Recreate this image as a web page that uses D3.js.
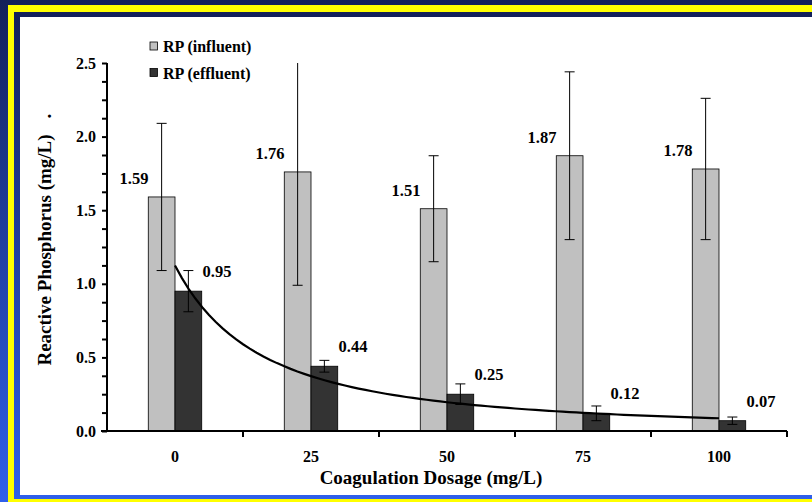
<!DOCTYPE html>
<html>
<head>
<meta charset="utf-8">
<script src="https://cdn.jsdelivr.net/npm/d3@7"></script>
<style>
  body { margin: 0; }
  svg { display: block; }
  text { font-family: "Liberation Serif", "Times New Roman", "DejaVu Serif", serif; font-weight: bold; fill: #000; }
</style>
</head>
<body>
<div id="chart"></div>
<script>
// Data
const dosages = ["0", "25", "50", "75", "100"];
const influent = [1.59, 1.76, 1.51, 1.87, 1.78];
const effluent = [0.95, 0.44, 0.25, 0.12, 0.07];
const influentErr = [0.50, 0.77, 0.36, 0.57, 0.48];
const effluentErr = [0.14, 0.04, 0.07, 0.05, 0.025];
const yTicks = [0, 0.5, 1.0, 1.5, 2.0, 2.5];
const seriesNames = ["RP (influent)", "RP (effluent)"];
const seriesColors = ["#c0c0c0", "#333333"];

const W = 812, H = 502;
const plot = { left: 107, right: 787, top: 63, bottom: 431 };

const svg = d3.select("#chart")
  .append("svg")
  .attr("width", W)
  .attr("height", H);

// Background frame: blue gradient, yellow rule, white panel
const grad = svg.append("defs").append("linearGradient")
  .attr("id", "bg").attr("x1", 0).attr("y1", 0).attr("x2", 0).attr("y2", 1);
grad.append("stop").attr("offset", "0%").attr("stop-color", "#13205a");
grad.append("stop").attr("offset", "100%").attr("stop-color", "#3060ea");

svg.append("rect").attr("width", W).attr("height", H).attr("fill", "url(#bg)");
svg.append("rect").attr("x", 8).attr("y", 5).attr("width", W).attr("height", H + 10).attr("fill", "#ffff00");
svg.append("rect").attr("x", 14).attr("y", 12).attr("width", W).attr("height", 487).attr("fill", "url(#bg)");
svg.append("rect").attr("x", 20).attr("y", 17).attr("width", W).attr("height", 478).attr("fill", "#fff");

// Scales
const x = d3.scaleBand().domain(dosages).range([plot.left, plot.right]);
const y = d3.scaleLinear().domain([0, 2.5]).range([plot.bottom, plot.top]);
const groupW = x.bandwidth() * 0.393;
const xSub = d3.scaleBand().domain([0, 1])
  .range([(x.bandwidth() - groupW) / 2, (x.bandwidth() + groupW) / 2]);

const rows = dosages.map((d, i) => ({
  dose: d,
  vals: [influent[i], effluent[i]],
  errs: [influentErr[i], effluentErr[i]]
}));

// Bars
const groups = svg.selectAll(".grp")
  .data(rows)
  .enter()
  .append("g")
  .attr("class", "grp")
  .attr("transform", d => `translate(${x(d.dose)},0)`);

groups.selectAll("rect")
  .data(d => d.vals.map((v, k) => ({ v, k, e: d.errs[k] })))
  .enter()
  .append("rect")
  .attr("x", d => xSub(d.k))
  .attr("y", d => y(d.v))
  .attr("width", xSub.bandwidth())
  .attr("height", d => y(0) - y(d.v))
  .attr("fill", d => seriesColors[d.k])
  .attr("stroke", "#000")
  .attr("stroke-width", 0.8);

// Trendline: power fit of effluent values against category index 1..5
const lx = effluent.map((v, i) => Math.log(i + 1));
const ly = effluent.map(v => Math.log(v));
const mx = d3.mean(lx), my = d3.mean(ly);
const b = d3.sum(lx, (v, i) => (v - mx) * (ly[i] - my)) / d3.sum(lx, v => (v - mx) * (v - mx));
const a = Math.exp(my - b * mx);
const xIdx = d3.scaleLinear()
  .domain([1, dosages.length])
  .range([x(dosages[0]) + x.bandwidth() / 2, x(dosages[dosages.length - 1]) + x.bandwidth() / 2]);
const trend = d3.range(1, dosages.length + 0.001, 0.05).map(t => [t, a * Math.pow(t, b)]);
svg.append("path")
  .datum(trend)
  .attr("fill", "none")
  .attr("stroke", "#000")
  .attr("stroke-width", 2.2)
  .attr("d", d3.line().x(d => xIdx(d[0])).y(d => y(d[1])));

// Error bars
groups.each(function(d) {
  const g = d3.select(this);
  d.vals.forEach((v, k) => {
    const cx = xSub(k) + xSub.bandwidth() / 2;
    const hiV = v + d.errs[k], loV = v - d.errs[k];
    const hi = y(Math.min(hiV, 2.5)), lo = y(loV);
    g.append("line").attr("x1", cx).attr("x2", cx).attr("y1", hi).attr("y2", lo)
      .attr("stroke", "#000").attr("stroke-width", 1);
    g.append("line").attr("x1", cx - 5).attr("x2", cx + 5).attr("y1", lo).attr("y2", lo)
      .attr("stroke", "#000").attr("stroke-width", 1);
    if (hiV <= 2.5) {
      g.append("line").attr("x1", cx - 5).attr("x2", cx + 5).attr("y1", hi).attr("y2", hi)
        .attr("stroke", "#000").attr("stroke-width", 1);
    }
  });
});

// Value labels
groups.selectAll(".lbl")
  .data(d => d.vals.map((v, k) => ({ v, k })))
  .enter()
  .append("text")
  .attr("class", "lbl")
  .attr("x", d => x.bandwidth() / 2 + (d.k === 0 ? -41 : 42))
  .attr("y", d => y(d.v) - (d.k === 0 ? 13 : 14))
  .attr("text-anchor", "middle")
  .style("font-size", "16.5px")
  .text(d => d.v.toFixed(2));

// Y axis
const yAxis = d3.axisLeft(y)
  .tickValues(d3.range(0, 2.5001, 0.125))
  .tickSize(5)
  .tickFormat(d => yTicks.some(t => Math.abs(t - d) < 1e-6) ? d.toFixed(1) : "");
const gy = svg.append("g")
  .attr("transform", `translate(${plot.left},0)`)
  .call(yAxis);
gy.attr("font-family", null);
gy.select(".domain").attr("d", `M0,${plot.top}V${plot.bottom + 1}`).attr("stroke-width", 2);
gy.selectAll(".tick line").attr("stroke-width", 2);
gy.selectAll(".tick text").attr("x", -11).style("font-size", "16px");

// X axis
const xAxis = d3.axisBottom(x).tickSize(0).tickFormat("");
const gx = svg.append("g")
  .attr("transform", `translate(0,${plot.bottom})`)
  .call(xAxis);
gx.attr("font-family", null);
gx.select(".domain").attr("d", `M${plot.left - 6},0H${plot.right}`).attr("stroke-width", 2);
gx.selectAll(".tick").remove();
const bounds = dosages.map(d => x(d)).concat([plot.right]);
gx.selectAll(".bnd").data(bounds.slice(1)).enter().append("line")
  .attr("x1", d => d).attr("x2", d => d).attr("y1", 0).attr("y2", 6)
  .attr("stroke", "#000").attr("stroke-width", 2);
gx.selectAll(".xl").data(dosages).enter().append("text")
  .attr("x", d => x(d) + x.bandwidth() / 2)
  .attr("y", 31)
  .attr("text-anchor", "middle")
  .style("font-size", "16px")
  .text(d => d);

// Axis titles
svg.append("text")
  .attr("x", 431)
  .attr("y", 484)
  .attr("text-anchor", "middle")
  .style("font-size", "19px")
  .text("Coagulation Dosage (mg/L)");

svg.append("text")
  .attr("transform", "translate(51,250) rotate(-90)")
  .attr("text-anchor", "middle")
  .style("font-size", "19px")
  .text("Reactive Phosphorus (mg/L)");
svg.append("text")
  .attr("transform", "translate(51,116) rotate(-90)")
  .attr("text-anchor", "middle")
  .style("font-size", "19px")
  .text(".");

// Legend
const legend = svg.append("g");
seriesNames.forEach((name, k) => {
  const ly0 = 42 + k * 26.5;
  legend.append("rect")
    .attr("x", 150).attr("y", ly0).attr("width", 7.5).attr("height", 8)
    .attr("fill", seriesColors[k]).attr("stroke", "#000").attr("stroke-width", 0.8);
  legend.append("text")
    .attr("x", 163).attr("y", ly0 + 10)
    .style("font-size", "16px")
    .text(name);
});
</script>
</body>
</html>
